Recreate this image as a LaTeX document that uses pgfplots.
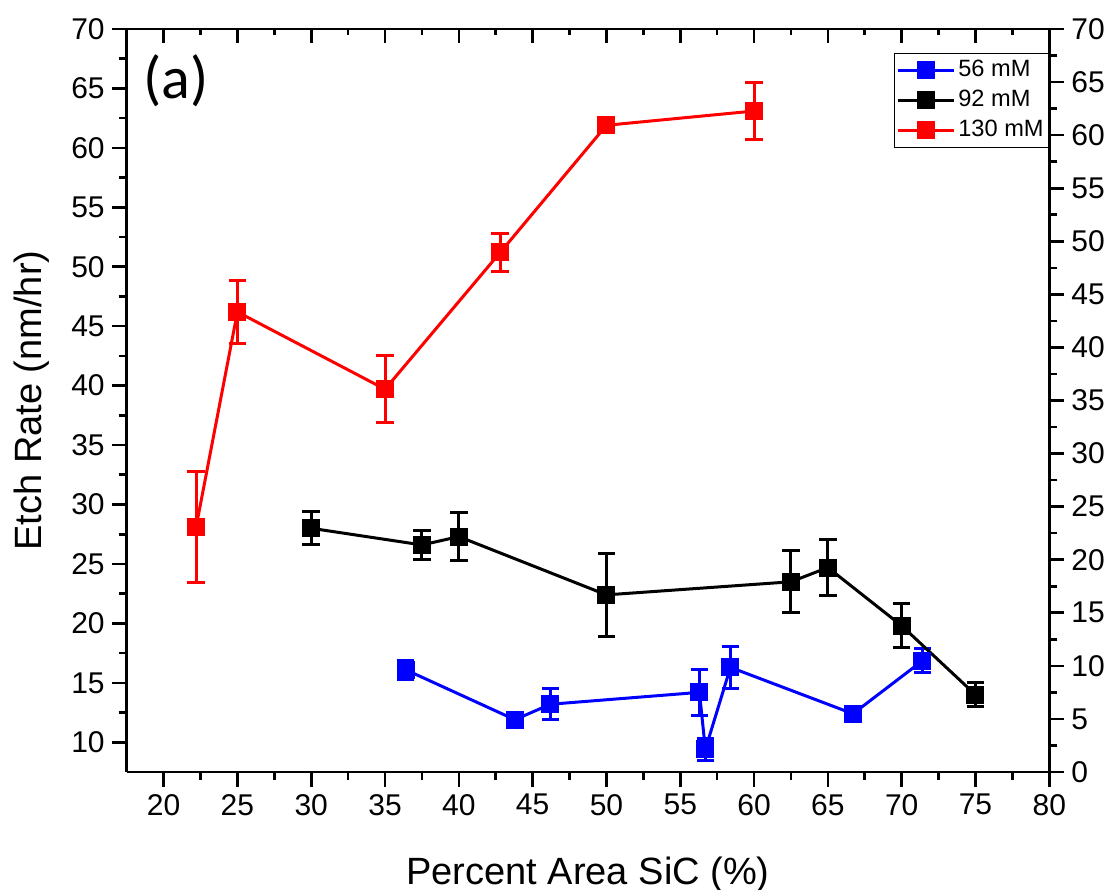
\documentclass[border=0pt]{standalone}
\usepackage{fontspec}
\setmainfont{Liberation Sans}
\newfontfamily\calib{Carlito}
\usepackage{pgfplots}
\pgfplotsset{compat=1.18}

\definecolor{oblue}{RGB}{0,0,255}
\definecolor{ored}{RGB}{255,0,0}

\pgfplotsset{
  base/.style={
    width=461.3pt, height=371.5pt, scale only axis,
    xmin=17.5, xmax=80,
    axis line style={line width=1.4pt,-},
    tick style={black, line width=1.3pt},
    /pgf/number format/assume math mode=true,
    tick label style={font=\fontsize{15}{18}\selectfont},
    major tick length=7.5pt, minor tick length=4pt,
    xtick={20,25,...,80}, minor x tick num=1, minor y tick num=1,
  },
  series/.style={
    color=#1, line width=1.5pt, mark=square*, mark size=3.75pt,
    mark options={solid, fill=#1},
    error bars/.cd, y dir=both, y explicit,
    error bar style={line width=1.5pt, solid},
    error mark options={rotate=90, mark size=4.4pt, line width=1.5pt},
  },
}

\begin{document}
\begin{tikzpicture}
\begin{axis}[base, name=main,
  ymin=7.5, ymax=70, ytick={10,15,...,70},
  axis x line*=bottom, axis y line*=left, tick align=outside,
  xlabel={Percent Area SiC (\%)}, ylabel={Etch Rate (nm/hr)},
  label style={font=\fontsize{19}{22}\selectfont},
  xlabel style={at={([yshift=-56pt]axis description cs:0.5,0)}, anchor=base},
  ylabel style={at={([xshift=-42.5pt]axis description cs:0,0.5)}, anchor=base},
  legend cell align=left,
  legend style={at={(1,0.968)}, anchor=north east, draw=black, line width=0.7pt,
    font=\fontsize{11.8}{13}\selectfont, inner xsep=1pt, inner ysep=1.5pt, row sep=1pt,
    nodes={text height=8.5pt, text depth=2.5pt, inner sep=1.5pt}},
  legend image code/.code={\draw[mark repeat=2, mark phase=2, #1]
    plot coordinates {(0pt,0pt) (14pt,0pt) (28pt,0pt)};},
]
% 56 mM
\addplot[series=oblue] table[x=x, y=y, y error=e] {
x y e
36.4 16.1 0.8
43.8 11.9 0.6
46.2 13.2 1.3
56.3 14.2 1.95
56.7 9.4 0.9
58.4 16.3 1.75
66.7 12.4 0.5
71.4 16.85 1.0
};
% 92 mM
\addplot[series=black] table[x=x, y=y, y error=e] {
x y e
30 28.0 1.4
37.5 26.6 1.2
40 27.3 2.05
50 22.4 3.5
62.5 23.5 2.6
65 24.7 2.35
70 19.8 1.85
75 14.0 1.0
};
% 130 mM
\addplot[series=ored] table[x=x, y=y, y error=e] {
x y e
22.2 28.1 4.7
25 46.2 2.65
35 39.7 2.8
42.8 51.2 1.6
50 61.9 0.3
60 63.1 2.4
};
\legend{56 mM, 92 mM, 130 mM}
\node[font=\calib\fontsize{30}{36}\selectfont] at (rel axis cs:0.0534,0.9307) {(a)};
\end{axis}
% right-hand scale
\begin{axis}[base,
  ymin=0, ymax=70, ytick={0,5,...,70},
  axis x line=none, axis y line*=right, tick align=outside,
]
\end{axis}
% top ticks
\begin{axis}[base,
  ymin=0, ymax=1,
  axis x line*=top, axis y line=none, tick align=inside,
  xticklabels={}, major tick length=7pt, minor tick length=3pt,
]
\end{axis}
\pgfresetboundingbox
\path[use as bounding box] ([shift={(-63.35pt,-59pt)}]main.south west)
  rectangle ([shift={(30.85pt,14.5pt)}]main.north east);
\end{tikzpicture}
\end{document}
